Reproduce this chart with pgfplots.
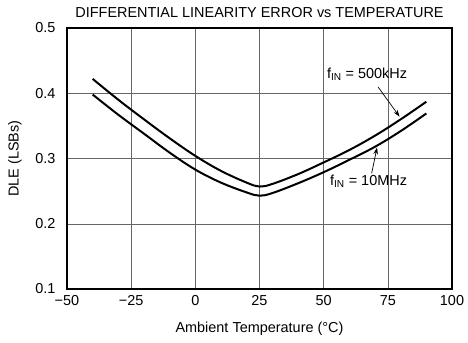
\documentclass[border=0pt]{standalone}
\usepackage{fontspec}
\setmainfont{Liberation Sans}
\usepackage{pgfplots}
\pgfplotsset{compat=1.18}
\usetikzlibrary{arrows.meta}
\begin{document}
\begin{tikzpicture}
\path[use as bounding box] (-67bp,-54bp) rectangle (401bp,289bp);
\begin{axis}[
  at={(0,0)}, anchor=south west,
  scale only axis, width=385bp, height=261bp,
  xmin=-50, xmax=100, ymin=0.1, ymax=0.5,
  xtick={-50,-25,0,25,50,75,100},
  xticklabels={−50,−25,0,25,50,75,100},
  ytick={0.1,0.2,0.3,0.4,0.5},
  yticklabels={0.1,0.2,0.3,0.4,0.5},
  major tick length=0pt,
  tick label style={font=\fontsize{14.5}{16}\selectfont},
  xticklabel style={yshift=-3bp},
  yticklabel style={xshift=-8bp},
  grid=major,
  major grid style={black!60, line width=0.5bp},
  axis line style={line width=1.8bp},
  title={DIFFERENTIAL LINEARITY ERROR vs TEMPERATURE},
  title style={font=\fontsize{14.5}{16}\selectfont, yshift=1bp},
  xlabel={Ambient Temperature (°C)},
  ylabel={DLE (LSBs)},
  label style={font=\fontsize{14.5}{16}\selectfont},
  xlabel style={yshift=-9bp},
  ylabel style={yshift=7bp},
  clip=false,
]
\addplot[black, line width=2bp, smooth, tension=0.6] coordinates {
(-40,0.422) (-30,0.390) (-20,0.360) (-10,0.331) (0,0.304) (10,0.281) (20,0.263) (25,0.257) (30,0.261) (40,0.276) (50,0.294) (60,0.313) (70,0.335) (80,0.360) (90,0.387)
};
\addplot[black, line width=2bp, smooth, tension=0.6] coordinates {
(-40,0.398) (-30,0.367) (-20,0.338) (-10,0.309) (0,0.283) (10,0.263) (20,0.248) (25,0.243) (30,0.247) (40,0.262) (50,0.279) (60,0.298) (70,0.318) (80,0.342) (90,0.369)
};
\node[font=\fontsize{14.5}{16}\selectfont] at (axis cs:66.9,0.4295) {f\textsubscript{IN} = 500kHz};
\node[font=\fontsize{14.5}{16}\selectfont] at (axis cs:67.5,0.2655) {f\textsubscript{IN} = 10MHz};
\draw[line width=0.7bp, -{Stealth[length=7bp,width=4.5bp]}] (axis cs:71.2,0.4096) -- (axis cs:79.6,0.3640);
\draw[line width=0.7bp, -{Stealth[length=7bp,width=4.5bp]}] (axis cs:68.7,0.2773) -- (axis cs:70.8,0.3170);
\end{axis}
\end{tikzpicture}
\end{document}
